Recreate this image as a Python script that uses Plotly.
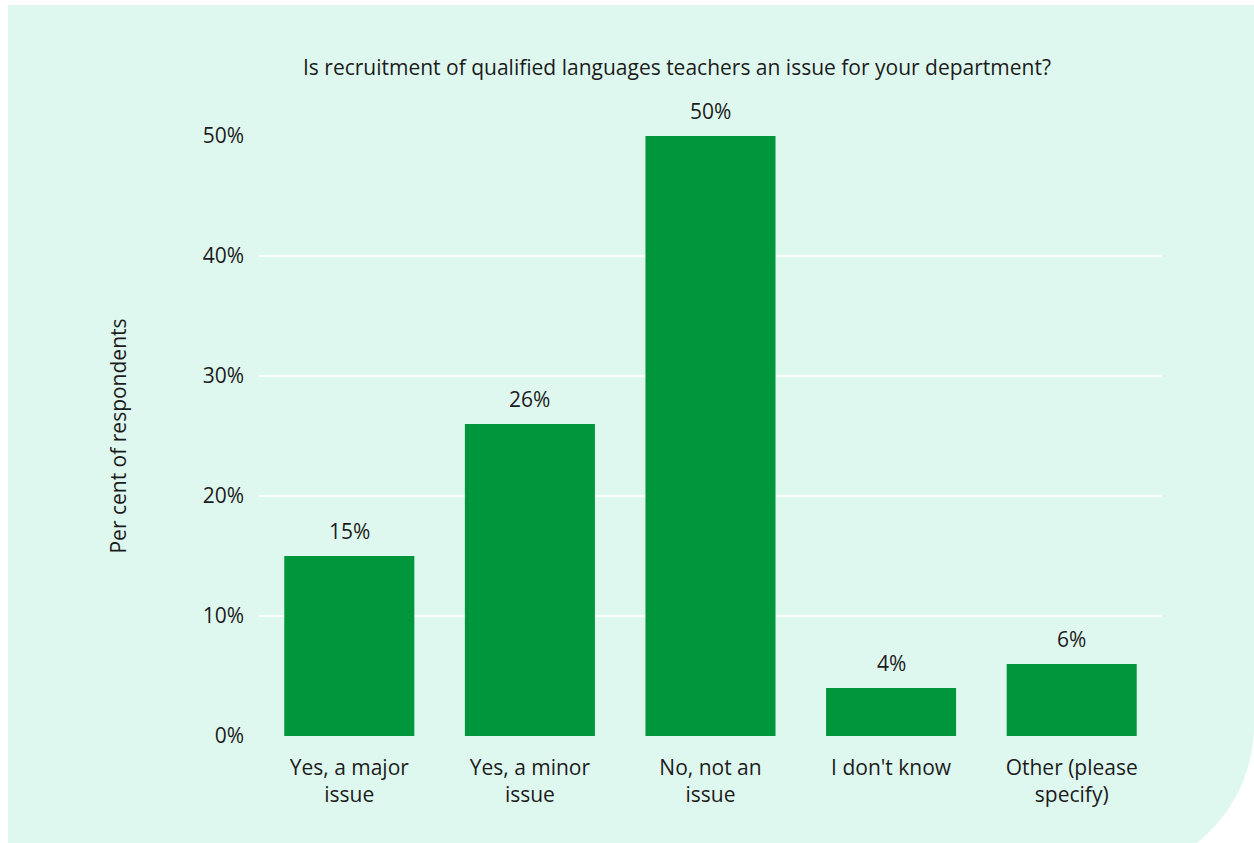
import plotly.graph_objects as go

# Survey responses
categories = ["Yes, a major<br>issue", "Yes, a minor<br>issue", "No, not an<br>issue",
              "I don't know", "Other (please<br>specify)"]
percentages = [15, 26, 50, 4, 6]
tick_values = [0, 10, 20, 30, 40, 50]
tick_labels = ["0%", "10%", "20%", "30%", "40%", "50%"]

title_text = "Is recruitment of qualified languages teachers an issue for your department?"
y_title = "Per cent of respondents"

W, H = 1254, 843
ML, MR, MT, MB = 259, 92, 136, 107
PW, PH = W - ML - MR, H - MT - MB

BAR = "#00963c"
PANEL = "#dff8ef"
INK = "#1c1c1c"
FONT = "Open Sans"
FS = 21


def px(x):
    return (x - ML) / PW


def py(y):
    return (H - MB - y) / PH


# Mint panel with a rounded bottom-right corner (cubic approximation of the arc)
left, top, right, bottom, r = 8, 5, 1254, 875, 150
k = 0.5523 * r
panel_path = (
    f"M {px(left)},{py(top)} L {px(right)},{py(top)} "
    f"L {px(right)},{py(bottom - r)} "
    f"C {px(right)},{py(bottom - r + k)} {px(right - r + k)},{py(bottom)} {px(right - r)},{py(bottom)} "
    f"L {px(left)},{py(bottom)} Z"
)

fig = go.Figure()
fig.add_trace(go.Bar(
    x=categories, y=percentages, marker=dict(color=BAR, line=dict(width=0)),
    hoverinfo="skip",
))

annotations = [
    dict(x=c, y=v, xref="x", yref="y", text=f"{v}%", showarrow=False,
         yanchor="bottom", yshift=9, font=dict(family=FONT, size=FS, color=INK))
    for c, v in zip(categories, percentages)
]
annotations.append(dict(
    x=px(677), y=py(67), xref="paper", yref="paper", text=title_text,
    showarrow=False, xanchor="center", yanchor="middle",
    font=dict(family=FONT, size=FS, color=INK),
))

fig.update_layout(
    width=W, height=H,
    margin=dict(l=ML, r=MR, t=MT, b=MB, pad=0),
    paper_bgcolor="white",
    plot_bgcolor="rgba(0,0,0,0)",
    bargap=0.28,
    showlegend=False,
    font=dict(family=FONT, size=FS, color=INK),
    shapes=[dict(type="path", path=panel_path, xref="paper", yref="paper",
                 fillcolor=PANEL, line=dict(width=0), layer="below")],
    annotations=annotations,
    xaxis=dict(showgrid=False, showline=False, zeroline=False, ticks="",
               tickfont=dict(family=FONT, size=FS, color=INK),
               ticklabelstandoff=17),
    yaxis=dict(range=[0, 50], tickvals=tick_values, ticktext=tick_labels,
               showgrid=True, gridcolor="white", gridwidth=2,
               zeroline=False, showline=False, ticks="",
               ticklabelstandoff=14,
               tickfont=dict(family=FONT, size=FS, color=INK),
               title=dict(text=y_title, standoff=70,
                          font=dict(family=FONT, size=FS, color=INK))),
)

fig.write_html("out.html")
